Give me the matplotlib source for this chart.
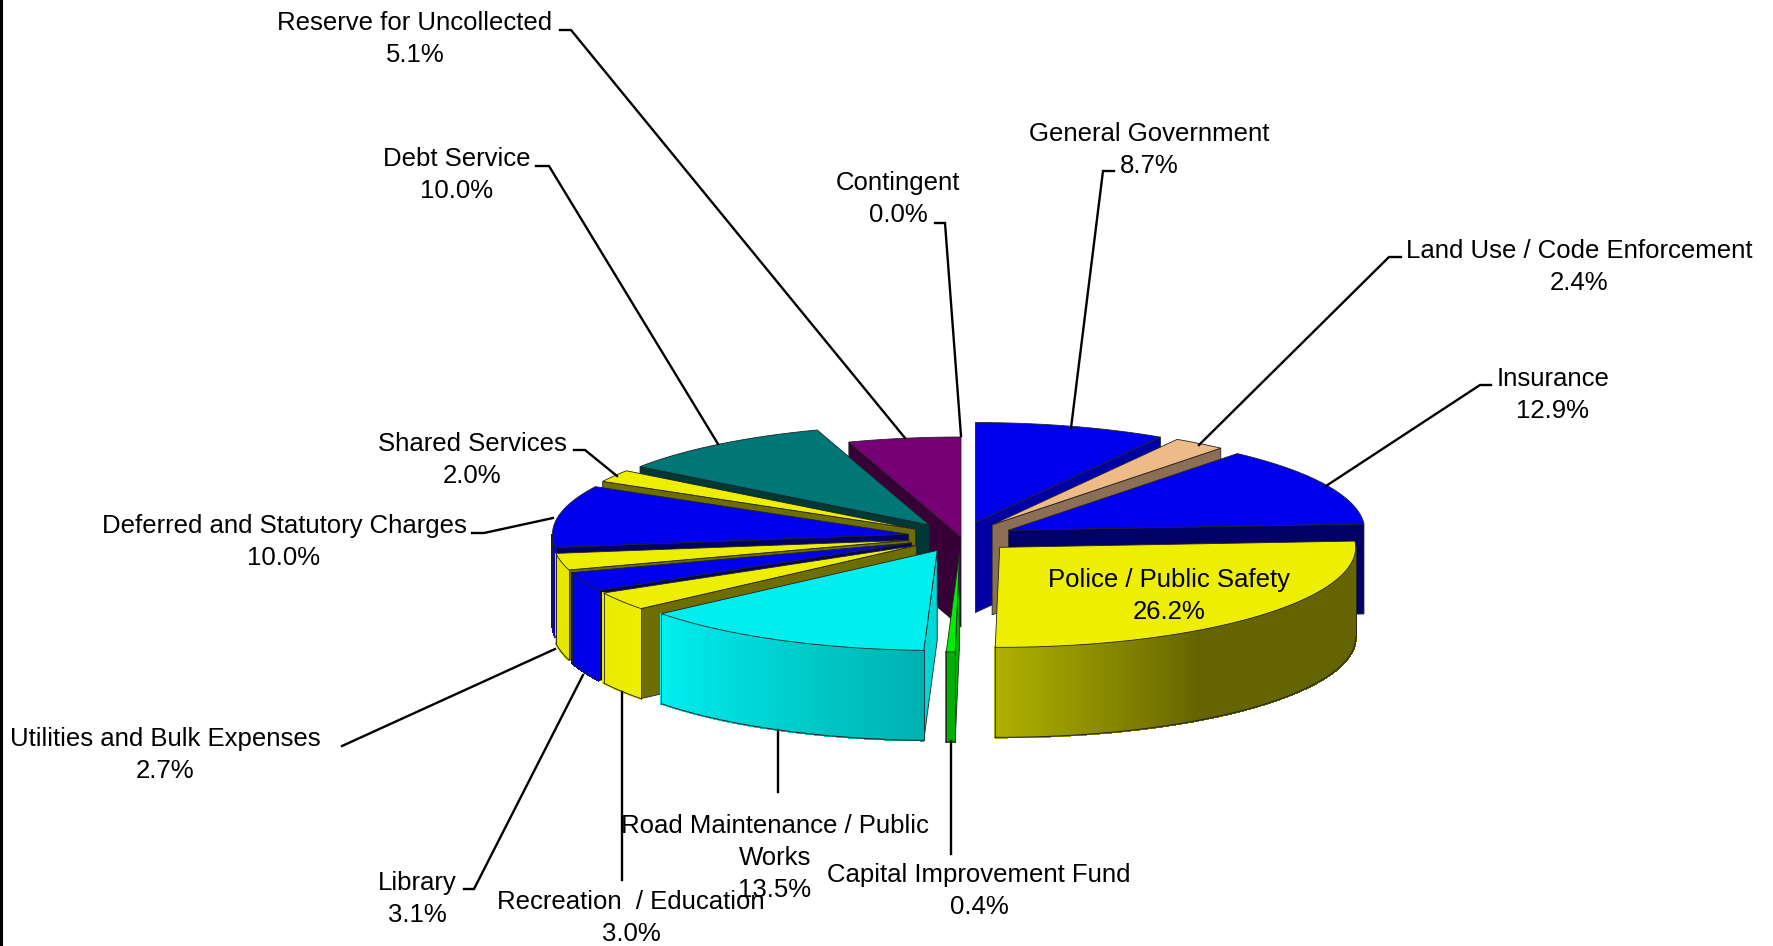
import numpy as np
import matplotlib
matplotlib.use('Agg')
import matplotlib.pyplot as plt

plt.rcParams['font.family'] = ['Liberation Sans', 'DejaVu Sans']

# clockwise from 12 o'clock
names = ['General Government', 'Land Use / Code Enforcement', 'Insurance', 'Police / Public Safety',
         'Capital Improvement Fund', 'Road Maintenance / Public\nWorks', 'Recreation  / Education',
         'Library', 'Utilities and Bulk Expenses', 'Deferred and Statutory Charges',
         'Shared Services', 'Debt Service', 'Reserve for Uncollected', 'Contingent']
values = [8.7, 2.4, 12.9, 26.2, 0.4, 13.5, 3.0, 3.1, 2.7, 10.0, 2.0, 10.0, 5.1, 0.0]
explode = [0.15, 0.15, 0.15, 0.15, 0.15, 0.15, 0.15, 0.15, 0.15, 0.15, 0.15, 0.15, 0.0, 0.0]
top_colors = ['#0000ee', '#eebb88', '#0000ee', '#eeee00', '#00ee00', '#00eeee', '#eeee00',
              '#0000ee', '#eeee00', '#0000ee', '#eeee00', '#007777', '#770077', '#777777']
side_colors = ['#0000a5', '#8c6e55', '#000066', '#6e6e00', '#00b400', '#00d8d8', '#6e6e00',
               '#000066', '#6e6e00', '#000066', '#6e6e00', '#003737', '#370037', '#333333']

# back to front
draw_order = [13, 12, 11, 10, 9, 8, 7, 6, 5, 0, 1, 2, 3, 4]

# label anchor, centre of the text block in pixels, and the leader line
label_pos = [(1149, 150), (1579, 267), (1553, 395), (1169, 596), (979, 891), (775, 858), (631, 918),
             (417, 899), (165, 755), (284, 542), (472, 460), (457, 175), (415, 39), (898, 199)]
leaders = [[(1114, 171), (1103, 171), (1071, 428)],
           [(1401, 257), (1389, 257), (1199, 445)],
           [(1491, 385), (1480, 385), (1326, 486)],
           [],
           [(951, 854), (951, 741)],
           [(778, 792), (778, 730)],
           [(622, 880), (622, 692)],
           [(464, 889), (474, 889), (583, 675)],
           [(342, 746), (555, 649)],
           [(472, 533), (484, 533), (553, 518)],
           [(574, 450), (585, 450), (617, 476)],
           [(536, 166), (549, 166), (718, 444)],
           [(560, 30), (571, 30), (905, 438)],
           [(935, 223), (945, 223), (961, 436)]]

cx, cy = 961, 537
a, b = 356, 100
depth = 90
edge = '#222222'

shade_ang = [90, 146, 180, 230, 270]
shade_val = [0.42, 0.42, 0.73, 1.0, 0.95]


def pt(ax0, ay0, deg):
    t = np.radians(deg)
    return ax0 + a * np.sin(t), ay0 - b * np.cos(t)


def draw_wedge(ax, i, start, end):
    mid = np.radians((start + end) / 2)
    ax0 = cx + explode[i] * a * np.sin(mid)
    ay0 = cy - explode[i] * b * np.cos(mid)
    base = np.array(matplotlib.colors.to_rgb(top_colors[i]))

    # cut faces, only those turned to the viewer
    for deg, visible in ((start, np.sin(np.radians(start)) < 0), (end, np.sin(np.radians(end)) > 0)):
        if visible:
            x1, y1 = pt(ax0, ay0, deg)
            ax.fill([ax0, x1, x1, ax0], [ay0, y1, y1 + depth, ay0 + depth],
                    facecolor=side_colors[i], edgecolor=edge, linewidth=0.6)

    # rim, split in strips for the gradient
    lo, hi = max(start, 90), min(end, 270)
    if hi > lo:
        degs = np.arange(lo, hi, 1.0).tolist() + [hi]
        for d0, d1 in zip(degs[:-1], degs[1:]):
            x0, y0 = pt(ax0, ay0, d0)
            x1, y1 = pt(ax0, ay0, d1)
            c = base * np.interp((d0 + d1) / 2, shade_ang, shade_val)
            ax.fill([x0, x1, x1, x0], [y0, y1, y1 + depth, y0 + depth],
                    facecolor=c, edgecolor=c, linewidth=1.0, antialiased=False)
        arc = np.radians(np.array(degs))
        xs = ax0 + a * np.sin(arc)
        ys = ay0 - b * np.cos(arc)
        ax.plot(xs, ys + depth, color=edge, linewidth=0.7)
        ax.plot([xs[0], xs[0]], [ys[0], ys[0] + depth], color=edge, linewidth=0.6)
        ax.plot([xs[-1], xs[-1]], [ys[-1], ys[-1] + depth], color=edge, linewidth=0.6)

    # top
    t = np.radians(np.linspace(start, end, 80))
    xs = np.r_[ax0, ax0 + a * np.sin(t)]
    ys = np.r_[ay0, ay0 - b * np.cos(t)]
    ax.fill(xs, ys, facecolor=top_colors[i], edgecolor=edge, linewidth=0.6)


fig = plt.figure(figsize=(17.74, 9.46), dpi=100)
ax = fig.add_axes([0, 0, 1, 1])
ax.set_xlim(0, 1774)
ax.set_ylim(946, 0)
ax.axis('off')

ends = np.cumsum(values) / sum(values) * 360
starts = np.r_[0, ends[:-1]]

for i in draw_order:
    if values[i] > 0:
        draw_wedge(ax, i, starts[i], ends[i])

for i in range(len(names)):
    if leaders[i]:
        xs, ys = zip(*leaders[i])
        ax.plot(xs, ys, color='black', linewidth=1.7, zorder=1.5 if i in (5, 6, 7, 8) else 3,
                solid_joinstyle='miter')
    ax.text(label_pos[i][0], label_pos[i][1], '%s\n%.1f%%' % (names[i], values[i]),
            ha='center', va='center', fontsize=18.55, linespacing=1.4, color='black', zorder=5)

ax.plot([1.5, 1.5], [0, 946], color='black', linewidth=2.2)

fig.savefig('out.png', dpi=100)
